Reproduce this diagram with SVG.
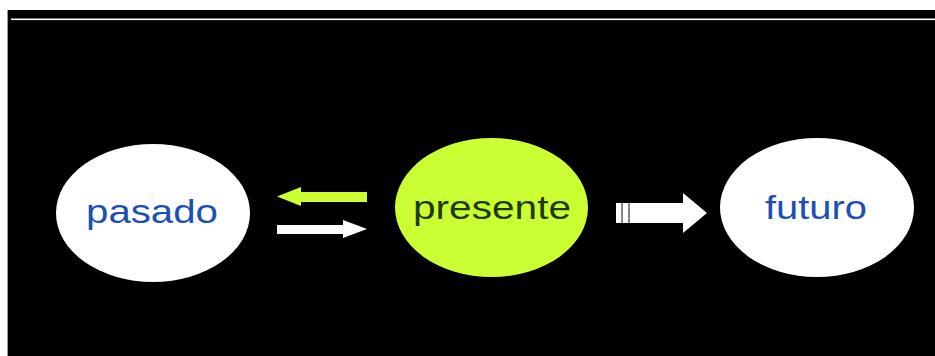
<svg xmlns="http://www.w3.org/2000/svg" width="935" height="356" viewBox="0 0 935 356">
  <style>
    .lbl { font-family: "Liberation Sans", Arial, sans-serif; font-size: 34px; text-anchor: middle; }
    .blue { fill: #1d4fb5; }
    .dark { fill: #1f3a0a; }
    .white { fill: #ffffff; }
    .lime { fill: #ccff33; }
  </style>
  <!-- page background and slide area -->
  <rect x="0" y="0" width="935" height="356" fill="#ffffff"/>
  <rect x="7" y="10" width="928" height="346" fill="#000000"/>
  <line x1="7.5" y1="10" x2="7.5" y2="356" stroke="#9a9a9a" stroke-width="1"/>
  <rect x="11" y="18.5" width="924" height="1.6" fill="#ffffff"/>

  <g id="connectors">
    <!-- presente -> pasado (lime) -->
    <polygon class="lime" points="367,192 301,192 301,187 277,196.5 301,206 301,202 367,202"/>
    <!-- pasado -> presente (white) -->
    <polygon class="white" points="277,225 343,225 343,220 367,229 343,238 343,234 277,234"/>
    <!-- presente -> futuro (striped wide arrow) -->
    <g class="white">
      <rect x="616" y="203" width="5" height="20"/>
      <rect x="622.5" y="203" width="5.5" height="20"/>
      <polygon points="629.5,203 683,203 683,193 707,213 683,233 683,223 629.5,223"/>
    </g>
    <rect x="621" y="203" width="1.5" height="20" fill="#8a8a8a"/>
    <rect x="628" y="203" width="1.5" height="20" fill="#8a8a8a"/>
  </g>

  <g id="pasado">
    <ellipse cx="153" cy="213" rx="97" ry="69" class="white"/>
    <text x="152" y="223" class="lbl blue" textLength="132" lengthAdjust="spacingAndGlyphs">pasado</text>
  </g>

  <g id="presente">
    <ellipse cx="491.5" cy="207.5" rx="96.5" ry="69.5" class="lime"/>
    <text x="492" y="219" class="lbl dark" textLength="158" lengthAdjust="spacingAndGlyphs">presente</text>
  </g>

  <g id="futuro">
    <ellipse cx="817" cy="207.5" rx="97" ry="69.5" class="white"/>
    <text x="816" y="219" class="lbl blue" textLength="102" lengthAdjust="spacingAndGlyphs">futuro</text>
  </g>
</svg>
